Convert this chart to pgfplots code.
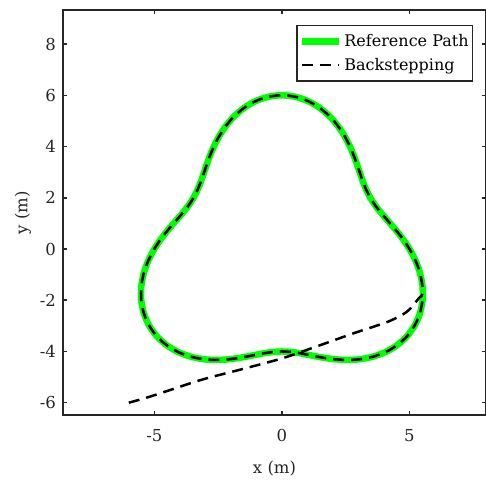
\documentclass[border=0pt]{standalone}
\usepackage{fontspec}
\setmainfont{DejaVu Serif}
\usepackage{pgfplots}
\pgfplotsset{compat=1.18}
\definecolor{axgray}{HTML}{262626}
\definecolor{refgreen}{RGB}{0,255,0}
\newcommand\fs{\fontsize{16.5bp}{19bp}\selectfont}
\newcommand\lfs{\fontsize{16bp}{19bp}\selectfont}

\begin{document}
\begin{tikzpicture}
\begin{axis}[
    at={(0,0)}, anchor=south west,
    width=423bp, height=405bp, scale only axis,
    xmin=-8.58, xmax=8.0, ymin=-6.48, ymax=9.33,
    axis line style={line width=2.5bp, draw=axgray},
    tick style={line width=1.5bp, draw=axgray},
    major tick length=4bp,
    tick align=inside,
    xtick={-5,0,5}, xticklabels={-5,0,5},
    ytick={-6,-4,-2,0,2,4,6,8}, yticklabels={-6,-4,-2,0,2,4,6,8},
    tick label style={font=\fs, text=axgray},
    xticklabel style={yshift=-11bp},
    yticklabel style={xshift=-3.5bp},
    xlabel={x (m)}, ylabel={y (m)},
    label style={font=\fs, text=axgray},
    xlabel style={at={(axis description cs:0.5,-0.131)}, anchor=center},
    ylabel style={at={(axis description cs:-0.0946,0.5)}, anchor=center},
    legend style={at={(axis description cs:0.970,0.963)}, anchor=north east,
        draw=axgray, line width=1.5bp, font=\lfs, text=black,
        inner xsep=2bp, inner ysep=7bp, row sep=6bp,
        cells={anchor=west}},
    legend image code/.code={\draw[#1] (0bp,0bp) -- (37bp,0bp);},
]
% reference path
\addplot[refgreen, line width=6.5bp, smooth] coordinates {
(0,-4) (0.3518,-4.0188) (0.7177,-4.0712) (1.1110,-4.1465) (1.5390,-4.2287)
(2.0036,-4.2970) (2.5,-4.3301) (3.0164,-4.3080) (3.5354,-4.2130) (4.0355,-4.0355)
(4.4934,-3.7707) (4.8873,-3.4220) (5.1962,-3.0) (5.4069,-2.5212) (5.5123,-2.0062)
(5.5125,-1.4770) (5.4164,-0.9548) (5.2388,-0.4586) (5,0) (4.7232,0.4135)
(4.4316,0.7812) (4.1466,1.1110) (3.8847,1.4138) (3.6561,1.7048) (3.4641,2.0)
(3.3047,2.3139) (3.1666,2.6573) (3.0355,3.0355) (2.8926,3.4470) (2.7196,3.8839)
(2.5,4.3301) (2.2224,4.7661) (1.8810,5.1684) (1.4770,5.5125) (1.0184,5.7769)
(0.5202,5.9432) (0,6)
(-0.5202,5.9432) (-1.0184,5.7769) (-1.4770,5.5125) (-1.8810,5.1684) (-2.2224,4.7661)
(-2.5,4.3301) (-2.7196,3.8839) (-2.8926,3.4470) (-3.0355,3.0355) (-3.1666,2.6573)
(-3.3047,2.3139) (-3.4641,2.0) (-3.6561,1.7048) (-3.8847,1.4138) (-4.1466,1.1110)
(-4.4316,0.7812) (-4.7232,0.4135) (-5,0) (-5.2388,-0.4586) (-5.4164,-0.9548)
(-5.5125,-1.4770) (-5.5123,-2.0062) (-5.4069,-2.5212) (-5.1962,-3.0) (-4.8873,-3.4220)
(-4.4934,-3.7707) (-4.0355,-4.0355) (-3.5354,-4.2130) (-3.0164,-4.3080) (-2.5,-4.3301)
(-2.0036,-4.2970) (-1.5390,-4.2287) (-1.1110,-4.1465) (-0.7177,-4.0712) (-0.3518,-4.0188)
(0,-4)
};
\addlegendentry{Reference Path}
% backstepping trajectory
\addplot[black, line width=2.5bp, dash pattern=on 11bp off 7bp, smooth] coordinates {
(-6,-6) (-5.1,-5.74) (-3.2,-5.12) (-1.6,-4.70) (0,-4.27) (1.4,-3.79)
(2.81,-3.29) (3.6,-3.03) (4.25,-2.80) (4.90,-2.45) (5.36,-1.93) (5.53,-1.70)
(5.4164,-0.9548) (5.2388,-0.4586) (5,0) (4.7232,0.4135)
(4.4316,0.7812) (4.1466,1.1110) (3.8847,1.4138) (3.6561,1.7048) (3.4641,2.0)
(3.3047,2.3139) (3.1666,2.6573) (3.0355,3.0355) (2.8926,3.4470) (2.7196,3.8839)
(2.5,4.3301) (2.2224,4.7661) (1.8810,5.1684) (1.4770,5.5125) (1.0184,5.7769)
(0.5202,5.9432) (0,6)
(-0.5202,5.9432) (-1.0184,5.7769) (-1.4770,5.5125) (-1.8810,5.1684) (-2.2224,4.7661)
(-2.5,4.3301) (-2.7196,3.8839) (-2.8926,3.4470) (-3.0355,3.0355) (-3.1666,2.6573)
(-3.3047,2.3139) (-3.4641,2.0) (-3.6561,1.7048) (-3.8847,1.4138) (-4.1466,1.1110)
(-4.4316,0.7812) (-4.7232,0.4135) (-5,0) (-5.2388,-0.4586) (-5.4164,-0.9548)
(-5.5125,-1.4770) (-5.5123,-2.0062) (-5.4069,-2.5212) (-5.1962,-3.0) (-4.8873,-3.4220)
(-4.4934,-3.7707) (-4.0355,-4.0355) (-3.5354,-4.2130) (-3.0164,-4.3080) (-2.5,-4.3301)
(-2.0036,-4.2970) (-1.5390,-4.2287) (-1.1110,-4.1465) (-0.7177,-4.0712) (-0.3518,-4.0188)
(0,-4) (0.3518,-4.0188) (0.7177,-4.0712) (1.1110,-4.1465) (1.5390,-4.2287)
(2.0036,-4.2970) (2.5,-4.3301) (3.0164,-4.3080) (3.5354,-4.2130) (4.0355,-4.0355)
(4.4934,-3.7707) (4.8873,-3.4220) (5.1962,-3.0) (5.4069,-2.5212) (5.5123,-2.0062)
};
\addlegendentry{Backstepping}
\end{axis}
\pgfresetboundingbox
\useasboundingbox (-63bp,-66bp) rectangle (423bp,415bp);
\end{tikzpicture}
\end{document}
